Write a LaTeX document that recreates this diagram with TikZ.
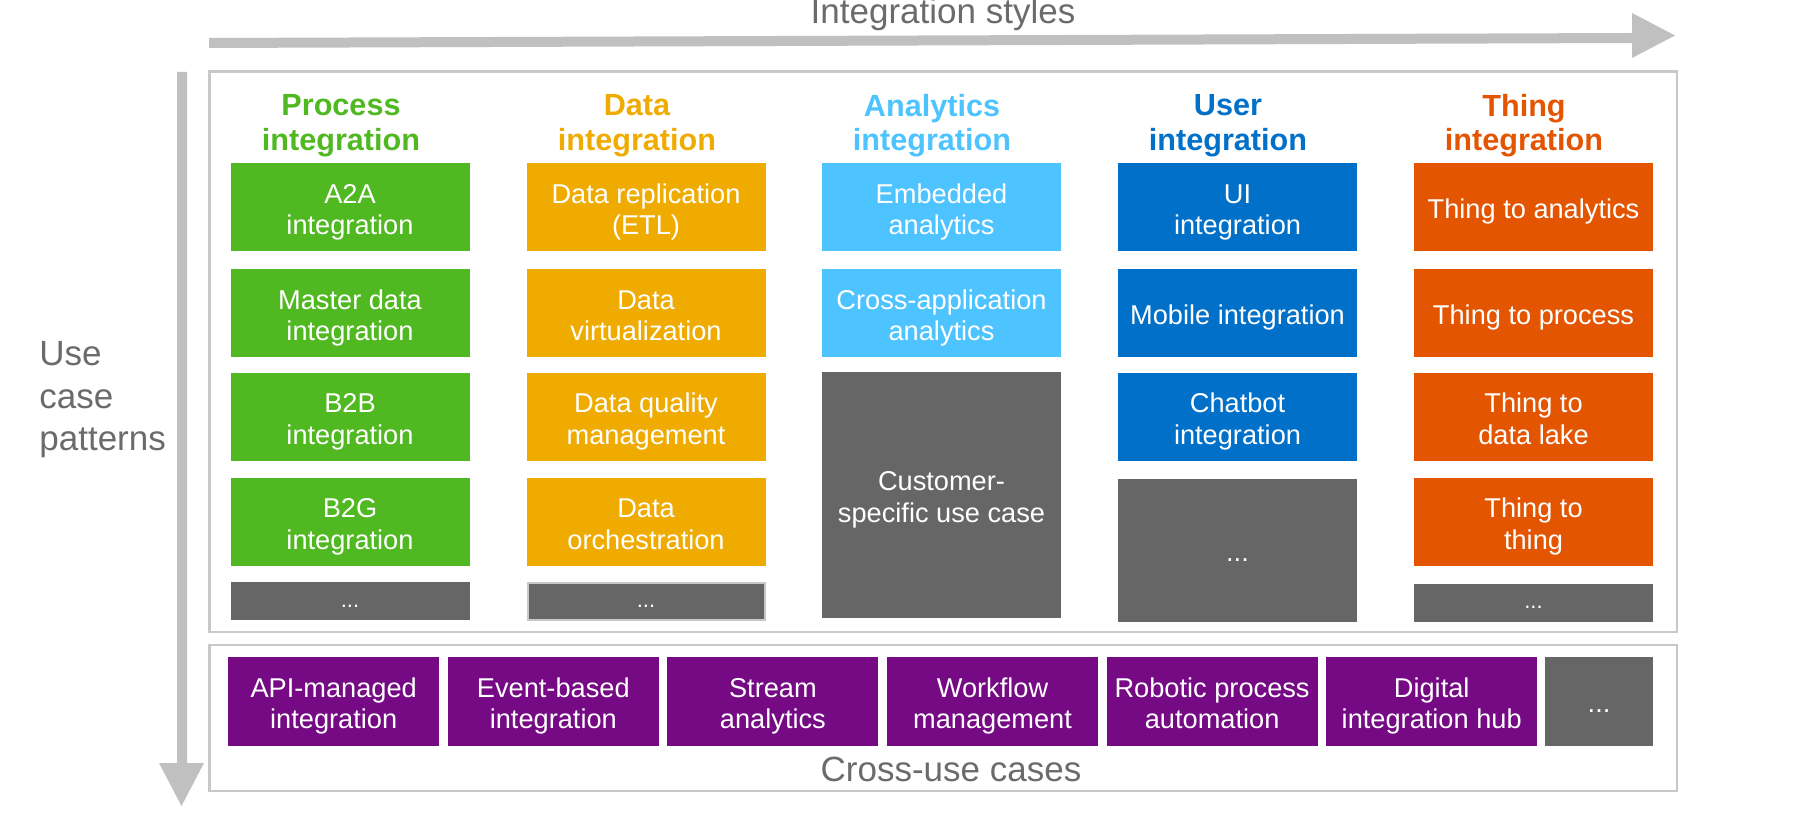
\documentclass[tikz,border=0pt]{standalone}
\usepackage{fontspec}
\setmainfont{Liberation Sans}
\definecolor{cgreen}{HTML}{50B820}
\definecolor{corange}{HTML}{F0AB00}
\definecolor{clblue}{HTML}{4DC3FF}
\definecolor{cblue}{HTML}{0070C9}
\definecolor{cthing}{HTML}{E35500}
\definecolor{cpurple}{HTML}{760A85}
\definecolor{cgray}{HTML}{666666}
\definecolor{carrow}{HTML}{C0C0C0}
\definecolor{cframe}{HTML}{C8C8C8}
\definecolor{ctext}{HTML}{6B6B6B}
\newcommand\ta{\rule{0pt}{14.5pt}}
\newcommand\tz{\rule[-3pt]{0pt}{3pt}}
\begin{document}
\begin{tikzpicture}[x=0.5pt,y=-0.5pt,
  box/.style={draw=none, inner sep=0pt, text=white, align=center,
    font=\fontsize{13.6}{15.8}\selectfont, minimum width=119.5pt, minimum height=44pt},
  pbox/.style={box, fill=cpurple, minimum width=105.5pt, minimum height=44.25pt},
  dots/.style={box, fill=cgray},
  dtxt/.style={text=white, font=\fontsize{11}{13}\selectfont, inner sep=0pt},
  head/.style={inner sep=0pt, align=center, font=\fontsize{15.3}{17.3}\selectfont\bfseries},
  frame/.style={draw=cframe, line width=1.2pt},
  big/.style={inner sep=0pt, text=ctext, font=\fontsize{17.5}{21.1}\selectfont}
]
\useasboundingbox (0,0) rectangle (1807,817);
% axes arrows
\fill[carrow] (209,38) -- (1632,33) -- (1632,13) -- (1675,35.5) -- (1632,58) -- (1632,43) -- (209,48) -- cycle;
\fill[carrow] (177,72) -- (187,72) -- (187,763) -- (204,763) -- (181.5,806) -- (159,763) -- (177,763) -- cycle;
\node[big, anchor=base] (styles) at (943,24) {Integration styles};
\node[big, anchor=north west, align=left] (ucp) at (39,341.5) {Use\\case\\patterns};
% frames
\draw[frame] (209.5,71.7) rectangle (1676.7,631.7);
\draw[frame] (209.5,645) rectangle (1676.7,790.7);
\node[big, anchor=base] (cross) at (951,781) {Cross-use cases};
% headers
\node[head, text=cgreen] (h1) at (341,125.5) {Process\\integration};
\node[head, text=corange] (h2) at (637,125.5) {Data\\integration};
\node[head, text=clblue] (h3) at (932,125.5) {Analytics\\integration};
\node[head, text=cblue] (h4) at (1228,125.5) {User\\integration};
\node[head, text=cthing] (h5) at (1524,125.5) {Thing\\integration};
% column 1
\node[box, fill=cgreen] (a1) at (350,207.5) {\ta A2A\\integration\tz};
\node[box, fill=cgreen] (a2) at (350,313.5) {\ta Master data\\integration\tz};
\node[box, fill=cgreen] (a3) at (350,416.75) {\ta B2B\\integration\tz};
\node[box, fill=cgreen] (a4) at (350,521.75) {\ta B2G\\integration\tz};
\node[dots, minimum height=19pt] (a5) at (350,601) {};
\node[dtxt] (a5t) at (a5.center) [yshift=-2.5pt] {...};
% column 2
\node[box, fill=corange] (b1) at (646,207.5) {\ta Data replication\\(ETL)\tz};
\node[box, fill=corange] (b2) at (646,313.5) {\ta Data\\virtualization\tz};
\node[box, fill=corange] (b3) at (646,416.75) {\ta Data quality\\management\tz};
\node[box, fill=corange] (b4) at (646,521.75) {\ta Data\\orchestration\tz};
\node[dots, draw=cframe, line width=1pt, minimum width=118.5pt, minimum height=18.5pt] (b5) at (646,601.5) {};
\node[dtxt] (b5t) at (b5.center) [yshift=-2.5pt] {...};
% column 3
\node[box, fill=clblue] (c1) at (941.5,207.5) {\ta Embedded\\analytics\tz};
\node[box, fill=clblue] (c2) at (941.5,313.5) {\ta Cross-application\\analytics\tz};
\node[box, fill=cgray, minimum height=122.75pt] (c3) at (941.5,495.25) {\ta Customer-\\specific use case\tz};
% column 4
\node[box, fill=cblue] (d1) at (1237.5,207.5) {\ta UI\\integration\tz};
\node[box, fill=cblue] (d2) at (1237.5,313.5) {\ta Mobile integration\tz};
\node[box, fill=cblue] (d3) at (1237.5,416.75) {\ta Chatbot\\integration\tz};
\node[dots, minimum height=71.25pt] (d4) at (1237.5,550.25) {};
\node[dtxt, font=\fontsize{13.6}{16}\selectfont] (d4t) at (d4.center) [yshift=-4.7pt] {...};
% column 5
\node[box, fill=cthing] (e1) at (1533.5,207.5) {\ta Thing to analytics\tz};
\node[box, fill=cthing] (e2) at (1533.5,313.5) {\ta Thing to process\tz};
\node[box, fill=cthing] (e3) at (1533.5,416.75) {\ta Thing to\\data lake\tz};
\node[box, fill=cthing] (e4) at (1533.5,521.75) {\ta Thing to\\thing\tz};
\node[dots, minimum height=18.75pt] (e5) at (1533.5,602.75) {};
\node[dtxt] (e5t) at (e5.center) [yshift=-2.5pt] {...};
% cross-use cases
\node[pbox] (p1) at (333.7,701.5) {\ta API-managed\\integration\tz};
\node[pbox] (p2) at (553.3,701.5) {\ta Event-based\\integration\tz};
\node[pbox] (p3) at (772.9,701.5) {\ta Stream\\analytics\tz};
\node[pbox] (p4) at (992.5,701.5) {\ta Workflow\\management\tz};
\node[pbox] (p5) at (1212.1,701.5) {\ta Robotic process\\automation\tz};
\node[pbox] (p6) at (1431.7,701.5) {\ta Digital\\integration hub\tz};
\node[dots, minimum width=54pt, minimum height=44.25pt] (p7) at (1599,701.5) {};
\node[dtxt, font=\fontsize{13.6}{16}\selectfont] (p7t) at (p7.center) [yshift=-4.7pt] {...};
\end{tikzpicture}
\end{document}
